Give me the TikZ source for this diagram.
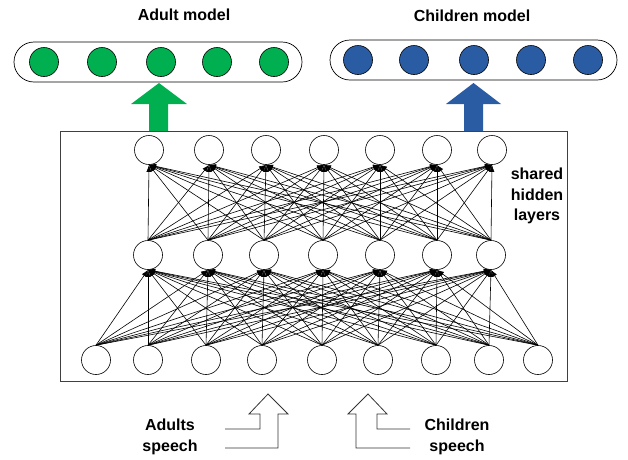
\documentclass[tikz,border=0pt]{standalone}
\usepackage{xcolor}
\usepackage{fontspec}
\setmainfont{Liberation Sans}
\usetikzlibrary{arrows.meta}

\definecolor{adultgreen}{HTML}{00B050}
\definecolor{childblue}{HTML}{2A5CA4}

\begin{document}
\begin{tikzpicture}[x=1pt,y=-1pt,
      neuron/.style={circle,draw,fill=white,minimum size=29pt,inner sep=0pt,line width=0.6pt},
      outneuron/.style={circle,draw,minimum size=29pt,inner sep=0pt,line width=0.6pt},
      layerbox/.style={draw,rounded corners=20pt,line width=0.7pt,minimum width=#1,minimum height=40pt,inner sep=0pt},
      link/.style={line width=0.6pt,-{Latex[length=7pt,width=5pt]}},
      label/.style={font=\fontsize{16}{20.5}\selectfont\bfseries,align=center}]
      \useasboundingbox (0,0) rectangle (628,459);
      % output layers
      \node[layerbox=288pt] (AdultBox) at (158,62) {};
      \node[layerbox=287pt] (ChildBox) at (473.5,60) {};
      \foreach \x [count=\i] in {44,102,161,217,274}
        \node[outneuron,fill=adultgreen] (Adult\i) at (\x,62) {};
      \foreach \x [count=\i] in {358,414,474,531,588}
        \node[outneuron,fill=childblue] (Child\i) at (\x,60) {};
      \node[label] (AdultLabel) at (184,15) {Adult model};
      \node[label] (ChildLabel) at (472,16) {Children model};
      % shared block
      \draw[black!75,line width=0.9pt] (60.5,131) rectangle (567,381);
      \fill[adultgreen] (149,131) -- (149,104) -- (131,104) -- (159,83)
        -- (187,104) -- (168,104) -- (168,131) -- cycle;
      \fill[childblue] (464,131) -- (464,104) -- (446,104) -- (473.5,83)
        -- (501,104) -- (483,104) -- (483,131) -- cycle;
      \foreach \x [count=\i] in {149,209,266,324,380,437,492}
        \node[neuron] (Top\i) at (\x,150) {};
      \foreach \x [count=\i] in {148,208,264,323,380,437,491}
        \node[neuron] (Mid\i) at (\x,255) {};
      \foreach \x [count=\i] in {96,148,206,262,322,378,436,489,538}
        \node[neuron] (Bot\i) at (\x,360) {};
      \foreach \i in {1,...,9}
        \foreach \j in {1,...,7}
          \draw[link] (Bot\i.north) -- (Mid\j.south);
      \foreach \i in {1,...,7}
        \foreach \j in {1,...,7}
          \draw[link] (Mid\i.north) -- (Top\j.south);
      \node[label] (SharedLabel) at (537,196) {shared\\hidden\\layers};
      % inputs
      \draw[black!80,line width=0.8pt] (225,429) -- (260,429) -- (260,414) -- (249,414)
        -- (268,394) -- (288,414) -- (278,414) -- (278,448) -- (225,448);
      \draw[black!80,line width=0.8pt] (410,429) -- (377,429) -- (377,414) -- (387,414)
        -- (368,394) -- (348,414) -- (356,414) -- (356,448) -- (410,448);
      \node[label] (AdultIn) at (170,437) {Adults\\speech};
      \node[label] (ChildIn) at (457,437) {Children\\speech};
\end{tikzpicture}
\end{document}
